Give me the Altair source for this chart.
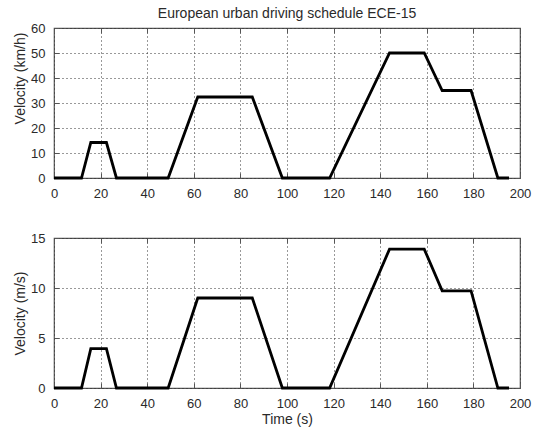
import altair as alt
import pandas as pd

# ECE-15 urban driving schedule: breakpoints of the speed trace
time_s = [0, 11.8, 15.8, 22.5, 26.8, 49.0, 61.7, 85.1, 98.0, 118.3, 144.0, 158.9, 166.6, 179.0, 190.5, 195.3]
speed_kmh = [0, 0, 14.2, 14.2, 0, 0, 32.4, 32.4, 0, 0, 50.0, 50.0, 35.0, 35.0, 0, 0]
speed_ms = [round(v / 3.6, 3) for v in speed_kmh]

x_ticks = [0, 20, 40, 60, 80, 100, 120, 140, 160, 180, 200]
kmh_ticks = [0, 10, 20, 30, 40, 50, 60]
ms_ticks = [0, 5, 10, 15]

df = pd.DataFrame({"t": time_s, "kmh": speed_kmh, "ms": speed_ms})

FONT = "Liberation Sans"
TXT = "#2a2a2a"
FRAME = "#555555"
W, H = 466, 150


def panel(ycol, ymax, yticks, ytitle, xtitle, title=None, ytitle_y=None):
    xs = alt.Scale(domain=[0, 200], nice=False)
    ys = alt.Scale(domain=[0, ymax], nice=False)
    common = dict(
        tickSize=5, offset=-5, domain=False, tickColor=FRAME, tickWidth=1,
        grid=True, gridDash=[1, 3], gridColor="#333333", gridWidth=1,
        labelFont=FONT, labelFontSize=13, labelColor=TXT,
        titleFont=FONT, titleFontSize=14, titleColor=TXT, titleFontWeight="normal",
    )
    xaxis = alt.Axis(values=x_ticks, labelPadding=9, title=xtitle, titlePadding=2,
                     labelFlush=False, **common)
    yextra = {"titleY": ytitle_y} if ytitle_y is not None else {}
    yaxis = alt.Axis(values=yticks, labelPadding=9, title=ytitle, titlePadding=3,
                     **yextra, **common)
    base = alt.Chart(df)
    line = base.mark_line(color="black", strokeWidth=2.8, strokeJoin="miter").encode(
        x=alt.X("t:Q", scale=xs, axis=xaxis),
        y=alt.Y(f"{ycol}:Q", scale=ys, axis=yaxis),
    )
    # inward ticks on the top and right edges
    mirror = dict(tickSize=5, offset=-5, domain=False, tickColor=FRAME, grid=False,
                  labels=False, title=None)
    edges = base.mark_point(opacity=0).encode(
        x=alt.X("t:Q", scale=xs, axis=alt.Axis(orient="top", values=x_ticks, **mirror)),
        y=alt.Y(f"{ycol}:Q", scale=ys, axis=alt.Axis(orient="right", values=yticks, **mirror)),
    )
    ch = alt.layer(line, edges).resolve_axis(x="independent", y="independent").properties(
        width=W, height=H
    )
    if title:
        ch = ch.properties(title=alt.Title(title, font=FONT, fontSize=14, fontWeight="normal",
                                           color=TXT, offset=1, frame="group", anchor="middle"))
    return ch


top = panel("kmh", 60, kmh_ticks, "Velocity (km/h)", None,
            "European urban driving schedule ECE-15", ytitle_y=50)
bottom = panel("ms", 15, ms_ticks, "Velocity (m/s)", "Time (s)")

chart = alt.vconcat(top, bottom, spacing=60, bounds="flush").properties(
    padding={"left": 12, "top": 6, "right": 0, "bottom": 0},
    background="white",
).configure_view(stroke=FRAME, strokeWidth=1.2)

chart.save("out.html", embed_options={"renderer": "svg", "actions": False})
